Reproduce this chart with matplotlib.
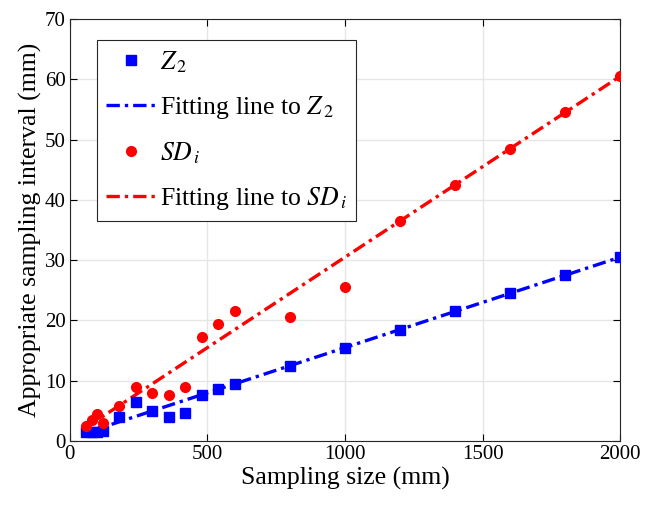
import matplotlib.pyplot as plt
import numpy as np

plt.rcParams['font.family'] = ['Liberation Serif', 'DejaVu Serif']
plt.rcParams['mathtext.fontset'] = 'stix'

# sampling sizes (mm)
size = [60, 80, 100, 120, 180, 240, 300, 360, 420, 480, 540, 600,
        800, 1000, 1200, 1400, 1600, 1800, 2000]
z2 = [1.5, 1.5, 1.5, 1.7, 4.0, 6.5, 5.0, 4.0, 4.6, 7.7, 8.6, 9.5,
      12.5, 15.5, 18.5, 21.5, 24.5, 27.5, 30.5]
sdi = [2.5, 3.5, 4.5, 3.0, 5.8, 8.9, 8.0, 7.7, 8.9, 17.3, 19.4, 21.5,
       20.5, 25.5, 36.5, 42.5, 48.5, 54.5, 60.5]

# fitted lines: slope, intercept
z2_fit = (0.015, 0.5)
sdi_fit = (0.030, 0.5)

fig = plt.figure(figsize=(6.46, 5.07), dpi=100)
ax = fig.add_axes([0.108, 0.130, 0.852, 0.8325])

xs = np.array([size[0], size[-1]])
dash = (0, (4, 1.5, 1, 1.5))

ax.plot(size, z2, 's', color='blue', markersize=6.5, label='$Z_{\\,2}$', zorder=3)
ax.plot(xs, z2_fit[0] * xs + z2_fit[1], color='blue', lw=2.4,
        linestyle=dash, label='Fitting line to $Z_{\\,2}$')
ax.plot(size, sdi, 'o', color='red', markersize=7, label='$SD_{\\,i}$', zorder=3)
ax.plot(xs, sdi_fit[0] * xs + sdi_fit[1], color='red', lw=2.4,
        linestyle=dash, label='Fitting line to $SD_{\\,i}$')

ax.set_xlim(0, 2000)
ax.set_ylim(0, 70)
ax.set_xticks([0, 500, 1000, 1500, 2000])
ax.set_yticks(range(0, 71, 10))
ax.grid(True, color='#e6e6e6', lw=1)
ax.set_axisbelow(True)
ax.tick_params(direction='in', top=True, right=True, labelsize=15, length=5,
               pad=3)
for s in ax.spines.values():
    s.set_color('#262626')

ax.set_xlabel('Sampling size (mm)', fontsize=18.5, labelpad=2)
ax.set_ylabel('Appropriate sampling interval (mm)', fontsize=18.5, labelpad=2)

leg = ax.legend(loc='upper left', bbox_to_anchor=(0.049, 0.95), fontsize=18.5,
                fancybox=False, edgecolor='#262626', framealpha=1,
                handlelength=1.95, handletextpad=0.15, borderpad=0.35,
                labelspacing=0.75, borderaxespad=0)
leg.get_frame().set_linewidth(0.8)

plt.savefig('out.png', dpi=100)
